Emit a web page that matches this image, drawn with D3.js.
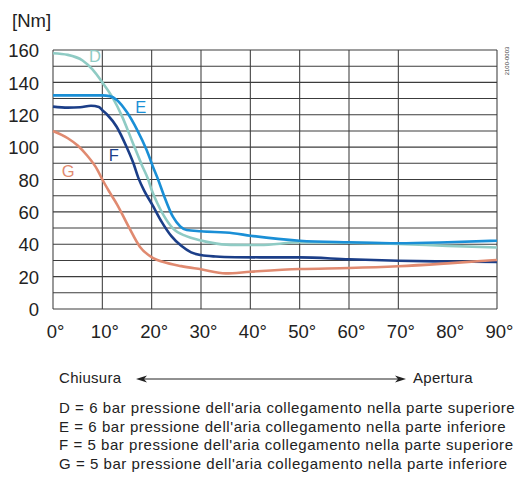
<!DOCTYPE html>
<html><head><meta charset="utf-8">
<script src="https://cdn.jsdelivr.net/npm/d3@7"></script>
<style>
body{margin:0;background:#fff;}
svg{display:block;font-family:"Liberation Sans",Arial,Helvetica,sans-serif;}
</style></head>
<body>
<svg id="chart" width="518" height="480"></svg>
<script>
// ---- data ----
const xTicks = [0,10,20,30,40,50,60,70,80,90];
const xGrid = [0,10,20,30,40,50,60,70,90];
const yTicks = [0,20,40,60,80,100,120,140,160];
const yGrid = [0,10,20,30,40,50,60,70,80,90,100,110,120,130,140,150,160];

const seriesD = [[0,158],[3,157],[6,153.5],[8,148],[10,140],[12,131],[14,119],[16,104],[18,89],[19.3,80],[20,73.5],[21.2,65],[22.4,58],[24.4,49.5],[27,45],[29.8,42.5],[32,41],[36,39.6],[42,39.5],[50,41.2],[60,41],[70,40.2],[80,39],[90,38]];
const seriesE = [[0,132],[5,132],[10,132],[11.5,131.5],[13,129],[15,121.5],[17,111],[19,98],[20.5,86],[21.3,80],[22.5,70],[24.3,57],[25.8,51],[27.1,48.8],[30,48],[36.5,46.8],[40,45.3],[50,42.2],[60,41.2],[70,40.6],[80,41.2],[90,42.2]];
const seriesF = [[0,125],[3,124.4],[5.5,124.6],[7.7,125.6],[9.3,124.8],[10,122.8],[11,120],[12.9,112.6],[14.9,100.2],[16.3,90],[17.3,81],[18.5,73],[20.2,64],[22,54],[24,45],[26,39],[28,35],[30,33.3],[33,32.4],[37,32],[42,31.9],[50,31.9],[60,30.7],[70,29.8],[80,29.3],[90,29]];
const seriesG = [[0,110],[3,105.5],[5,101],[7,94.5],[9,86],[10,80],[11.5,72],[13,64.5],[15.3,51],[17.6,38.5],[20.3,31.5],[22.4,29],[26,26.5],[30,24.5],[35,22],[40,23],[50,24.7],[60,25.3],[70,26.4],[80,28.2],[90,30.3]];

const seriesNames = ["D","E","F","G"];
const seriesColors = ["#8fcbc4","#1a8fd6","#1b3e88","#e08a70"];
const labelPos = [[8.5,156],[17.8,125],[12.3,95],[3.1,85]];
const legendLines = [
 "D = 6 bar pressione dell'aria collegamento nella parte superiore",
 "E = 6 bar pressione dell'aria collegamento nella parte inferiore",
 "F = 5 bar pressione dell'aria collegamento nella parte superiore",
 "G = 5 bar pressione dell'aria collegamento nella parte inferiore"
];

// ---- layout ----
const svg = d3.select("#chart");
const x = d3.scaleLinear().domain([0,90]).range([53,497]);
const y = d3.scaleLinear().domain([0,160]).range([309,50]);

// grid
const g = svg.append("g");
g.selectAll("line.h").data(yGrid).join("line")
  .attr("x1",x(0)).attr("x2",x(90))
  .attr("y1",d=>y(d)).attr("y2",d=>y(d))
  .attr("stroke","#3c3c3c").attr("stroke-width",1.05);
g.selectAll("line.v").data(xGrid).join("line")
  .attr("y1",y(0)).attr("y2",y(160))
  .attr("x1",d=>x(d)).attr("x2",d=>x(d))
  .attr("stroke","#3c3c3c").attr("stroke-width",1.05);

// axes
const yAxis = svg.append("g").attr("transform",`translate(${x(0)},0)`)
  .call(d3.axisLeft(y).tickValues(yTicks).tickSize(0).tickPadding(14));
yAxis.select(".domain").remove();
yAxis.selectAll("text").attr("font-size","18.5px").attr("fill","#222").attr("font-family","Liberation Sans, Arial, sans-serif").attr("dy","0.36em");

const xAxis = svg.append("g").attr("transform",`translate(0,${y(0)})`)
  .call(d3.axisBottom(x).tickValues(xTicks).tickSize(0).tickPadding(16).tickFormat(d=>d+"°"));
xAxis.select(".domain").remove();
xAxis.selectAll("text").attr("font-size","18.5px").attr("fill","#222").attr("font-family","Liberation Sans, Arial, sans-serif").attr("dx","2");

svg.append("text").attr("x",12).attr("y",27).attr("font-size","18.5px").attr("fill","#222").text("[Nm]");

// curves
const line = d3.line().x(d=>x(d[0])).y(d=>y(d[1])).curve(d3.curveMonotoneX);
[seriesD,seriesE,seriesF,seriesG].forEach((s,i)=>{
  svg.append("path").attr("d",line(s)).attr("fill","none")
    .attr("stroke",seriesColors[i]).attr("stroke-width",2.6)
    .attr("stroke-linejoin","round").attr("stroke-linecap","butt");
});
seriesNames.forEach((n,i)=>{
  svg.append("text").attr("x",x(labelPos[i][0])).attr("y",y(labelPos[i][1]))
    .attr("dy","0.36em").attr("text-anchor","middle").attr("font-size","16.5px")
    .attr("fill",seriesColors[i]).text(n);
});

// code text
svg.append("text").attr("transform","translate(509,61) rotate(-90)")
  .attr("text-anchor","middle").attr("font-size","6px").attr("fill","#444").text("2100-0003");

// direction arrow
svg.append("text").attr("x",59).attr("y",383).attr("font-size","15px").attr("fill","#222").attr("letter-spacing","0.3px").text("Chiusura");
svg.append("text").attr("x",413).attr("y",383).attr("font-size","15px").attr("fill","#222").attr("letter-spacing","0.3px").text("Apertura");
svg.append("line").attr("x1",140).attr("x2",402).attr("y1",379).attr("y2",379).attr("stroke","#222").attr("stroke-width",1);
svg.append("path").attr("d","M136,379 L147,375.5 L144,379 L147,382.5 Z").attr("fill","#222");
svg.append("path").attr("d","M406,379 L395,375.5 L398,379 L395,382.5 Z").attr("fill","#222");

// legend
svg.selectAll("text.leg").data(legendLines).join("text").attr("class","leg")
  .attr("x",59).attr("y",(d,i)=>413+i*18.6).attr("font-size","15px").attr("fill","#222")
  .attr("letter-spacing","0.55px").text(d=>d);
</script>
</body></html>
